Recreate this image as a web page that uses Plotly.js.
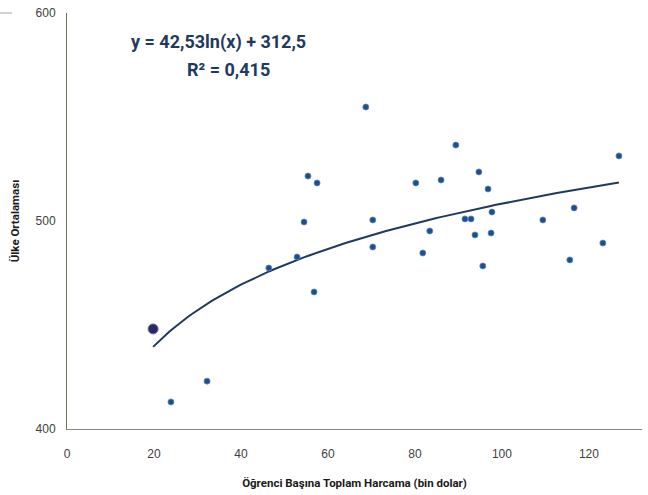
<!DOCTYPE html>
<html>
<head>
<meta charset="utf-8">
<script src="https://cdn.plot.ly/plotly-3.0.1.min.js"></script>
<style>
  html, body { margin: 0; padding: 0; background: #fff; overflow: hidden; }
  #chart { width: 648px; height: 495px; }
</style>
</head>
<body>
<div id="chart"></div>
<script>
// Total spending per student (thousand USD) and country mean score
const spending = [23.9, 32.2, 46.4, 52.9, 54.5, 55.4, 56.8, 57.5, 68.7, 70.3,
                  70.3, 80.2, 81.8, 83.4, 86.0, 89.4, 91.5, 92.9, 93.8, 94.7,
                  95.6, 96.8, 97.7, 97.5, 109.4, 115.6, 116.6, 123.2, 126.9];
const meanScore = [413.0, 423.0, 477.4, 482.7, 499.5, 521.6, 465.9, 518.3, 554.8, 500.5,
                   487.5, 518.3, 484.6, 495.2, 519.7, 536.5, 501.0, 501.0, 493.3, 523.6,
                   478.4, 515.4, 504.3, 494.2, 500.5, 481.3, 506.3, 489.4, 531.3];

// Highlighted country
const highlightSpending = [19.8];
const highlightScore = [448.1];

// Logarithmic trendline coefficients: y = a ln(x) + b
const trendA = 42.53;
const trendB = 312.5;
const trendR2 = 0.415;

// Axis tick values
const xTicks = [0, 20, 40, 60, 80, 100, 120];
const yTicks = [400, 500, 600];

const allX = spending.concat(highlightSpending);
const xMin = Math.min(...allX), xMax = Math.max(...allX);
const trendX = [], trendY = [];
for (let i = 0; i <= 120; i++) {
  const x = xMin + (xMax - xMin) * i / 120;
  trendX.push(x);
  trendY.push(trendA * Math.log(x) + trendB);
}

const fmt = (v, d) => v.toFixed(d).replace('.', ',');

const traces = [
  {
    x: trendX, y: trendY, type: 'scatter', mode: 'lines',
    line: { color: '#1f3a60', width: 2 }, hoverinfo: 'skip', showlegend: false
  },
  {
    x: spending, y: meanScore, type: 'scatter', mode: 'markers',
    marker: { color: '#1f4e8a', size: 6, line: { color: '#5b86c0', width: 0.8 } },
    showlegend: false
  },
  {
    x: highlightSpending, y: highlightScore, type: 'scatter', mode: 'markers',
    marker: { color: '#2b2a60', size: 10, line: { color: '#7a6aa8', width: 1 } },
    showlegend: false
  }
];

const boldFont = 'Roboto, "Liberation Sans", sans-serif';
const tickFont = { family: '"Liberation Sans", Arial, sans-serif', size: 12, color: '#404040' };

const layout = {
  width: 648, height: 495,
  margin: { l: 67, r: 6, t: 13, b: 66 },
  paper_bgcolor: '#ffffff', plot_bgcolor: '#ffffff',
  showlegend: false,
  xaxis: {
    range: [0, 132.2], tickvals: xTicks, ticktext: xTicks.map(String),
    showgrid: false, zeroline: false, showline: true,
    linecolor: '#8a8a7c', linewidth: 1, ticks: '',
    ticklabelstandoff: 14, tickfont: tickFont,
    title: { text: 'Öğrenci Başına Toplam Harcama (bin dolar)', standoff: 18,
             font: { family: boldFont, size: 11.5, color: '#1a1a1a', weight: 'bold' } }
  },
  yaxis: {
    range: [400, 600], tickvals: yTicks, ticktext: yTicks.map(String),
    showgrid: false, zeroline: false, showline: true,
    linecolor: '#6e6e50', linewidth: 1, ticks: '',
    ticklabelstandoff: 8, tickfont: tickFont,
    title: { text: 'Ülke Ortalaması', standoff: 13,
             font: { family: boldFont, size: 11.5, color: '#1a1a1a', weight: 'bold' } }
  },
  annotations: [
    {
      xref: 'paper', yref: 'paper', x: 0.264, y: 0.930,
      xanchor: 'center', yanchor: 'middle', showarrow: false,
      text: 'y = ' + fmt(trendA, 2) + 'ln(x) + ' + fmt(trendB, 1),
      font: { family: boldFont, size: 18, color: '#1f3a60', weight: 'bold' }
    },
    {
      xref: 'paper', yref: 'paper', x: 0.280, y: 0.863,
      xanchor: 'center', yanchor: 'middle', showarrow: false,
      text: 'R² = ' + fmt(trendR2, 3),
      font: { family: boldFont, size: 18, color: '#1f3a60', weight: 'bold' }
    }
  ],
  shapes: [
    {
      type: 'line', xref: 'paper', yref: 'paper',
      x0: -0.1165, x1: -0.0957, y0: 1, y1: 1,
      line: { color: '#a6a6a6', width: 1 }
    }
  ]
};

Plotly.newPlot('chart', traces, layout, { displayModeBar: false, staticPlot: true });
</script>
</body>
</html>
